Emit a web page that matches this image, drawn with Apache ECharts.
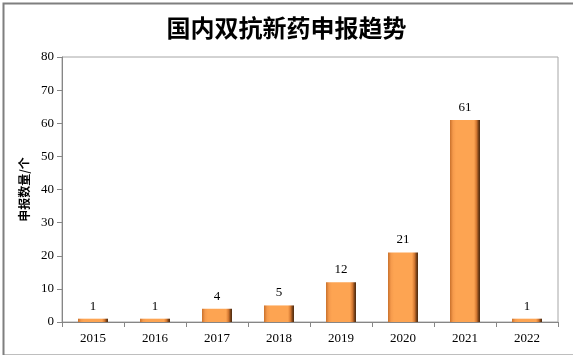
<!DOCTYPE html>
<html><head><meta charset="utf-8">
<script src="https://cdn.jsdelivr.net/npm/echarts@6/dist/echarts.min.js"></script>
<style>html,body{margin:0;padding:0;background:#fff}#c{width:573px;height:355px}</style>
</head><body><div id="c"></div>
<script>
const categories = ['2015','2016','2017','2018','2019','2020','2021','2022'];
const values = [1,1,4,5,12,21,61,1];
const yTicks = {min:0, max:80, interval:10};
const titleText = '国内双抗新药申报趋势';
const yName = '申报数量/个';

const chart = echarts.init(document.getElementById('c'), null, {renderer:'canvas'});
const barFill = new echarts.graphic.LinearGradient(0,0,1,0,[
  {offset:0, color:'#c9712c'},
  {offset:0.1, color:'#f59a4c'},
  {offset:0.2, color:'#fda452'},
  {offset:0.8, color:'#fda452'},
  {offset:0.88, color:'#d67a33'},
  {offset:0.95, color:'#7a4218'},
  {offset:1, color:'#4a2a10'}
]);
chart.setOption({
  animation:false,
  backgroundColor:'#fff',
  title:{text:titleText, left:'center', top:11,
    textStyle:{fontFamily:'Noto Sans CJK SC', fontSize:24, fontWeight:'bold', color:'#000'}},
  grid:{left:62, right:15, top:57, bottom:33, show:true, borderColor:'#a6a6a6', borderWidth:1},
  xAxis:{type:'category', data:categories,
    axisLine:{lineStyle:{color:'#868686', width:1}},
    axisTick:{show:true, inside:false, length:5, alignWithLabel:false, lineStyle:{color:'#868686'}},
    axisLabel:{color:'#000', fontFamily:'Liberation Serif', fontSize:13, margin:10}},
  yAxis:{type:'value', min:yTicks.min, max:yTicks.max, interval:yTicks.interval,
    name:yName, nameLocation:'middle', nameGap:32, nameRotate:90,
    nameTextStyle:{fontFamily:'Noto Sans CJK SC', fontWeight:'bold', fontSize:12, color:'#000'},
    axisLine:{show:true, lineStyle:{color:'#868686', width:1}},
    axisTick:{show:true, length:5, lineStyle:{color:'#868686'}},
    splitLine:{show:false},
    axisLabel:{color:'#000', fontFamily:'Liberation Serif', fontSize:13, margin:8}},
  series:[{type:'bar', data:values, barWidth:30,
    itemStyle:{color:barFill},
    label:{show:true, position:'top', distance:6, color:'#000', fontFamily:'Liberation Serif', fontSize:13}}],
  graphic:[{type:'rect', left:1, top:1, shape:{x:0,y:0,width:571,height:352},
    style:{fill:null, stroke:'#7f7f7f', lineWidth:2}, z:100}]
});
</script></body></html>
